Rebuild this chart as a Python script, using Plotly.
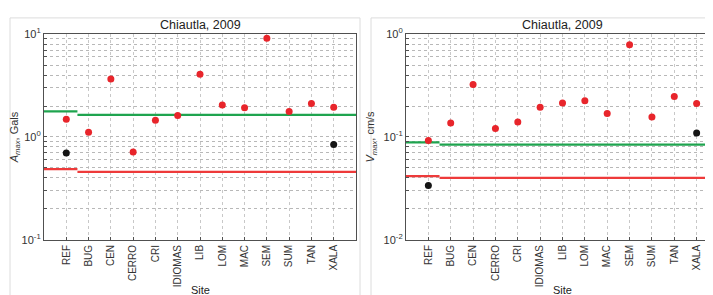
import numpy as np
import plotly.graph_objects as go

sites = ["REF", "BUG", "CEN", "CERRO", "CRI", "IDIOMAS", "LIB", "LOM", "MAC", "SEM", "SUM", "TAN", "XALA"]

# Amax (Gals)
amax_red = [1.49, 1.11, 3.67, 0.716, 1.45, 1.62, 4.06, 2.05, 1.92, 9.12, 1.77, 2.12, 1.94]
amax_black_sites = ["REF", "XALA"]
amax_black = [0.70, 0.843]
amax_green = [1.77, 1.64]   # [REF segment, other sites]
amax_redline = [0.488, 0.457]

# Vmax (cm/s)
vmax_red = [0.0924, 0.137, 0.323, 0.121, 0.140, 0.195, 0.214, 0.225, 0.169, 0.79, 0.156, 0.248, 0.212]
vmax_black_sites = ["REF", "XALA"]
vmax_black = [0.0337, 0.109]
vmax_green = [0.0887, 0.0843]
vmax_redline = [0.0417, 0.0400]

W, H = 713, 295
n = len(sites)
xpos = {s: i + 1 for i, s in enumerate(sites)}

RED = "#e8252b"
GREEN = "#1fa44f"
LRED = "#ee3a3a"
AXC = "#505050"
TXT = "#333333"
FONT = "Liberation Sans, Arial, sans-serif"

fig = go.Figure()

def add_panel(xa, ya, red, bsites, black, green, redline):
    split = 1.5
    segs = [(0, split), (split, n + 1)]
    for vals, col in ((green, GREEN), (redline, LRED)):
        for (x0, x1), v in zip(segs, vals):
            fig.add_trace(go.Scatter(x=[x0, x1], y=[v, v], mode="lines",
                                     line=dict(color=col, width=2.2),
                                     xaxis=xa, yaxis=ya, showlegend=False, hoverinfo="skip"))
    fig.add_trace(go.Scatter(x=[xpos[s] for s in sites], y=red, mode="markers",
                             marker=dict(color=RED, size=7),
                             xaxis=xa, yaxis=ya, showlegend=False))
    fig.add_trace(go.Scatter(x=[xpos[s] for s in bsites], y=black, mode="markers",
                             marker=dict(color="#151515", size=7),
                             xaxis=xa, yaxis=ya, showlegend=False))

add_panel("x", "y", amax_red, amax_black_sites, amax_black, amax_green, amax_redline)
add_panel("x2", "y2", vmax_red, vmax_black_sites, vmax_black, vmax_green, vmax_redline)

def log_ticks(lo, hi):
    vals, txt = [], []
    for d in range(lo, hi + 1):
        for m in range(1, 10):
            if d == hi and m > 1:
                break
            vals.append(m * 10.0 ** d)
            txt.append(f"10<sup>{d}</sup>" if m == 1 else "")
    return vals, txt

def xaxis_cfg(domain, anchor):
    return dict(domain=domain, anchor=anchor, range=[0, n + 1],
                tickmode="array", tickvals=list(range(1, n + 1)), ticktext=sites,
                tickangle=-90, tickfont=dict(size=10, color=TXT, family=FONT),
                showgrid=True, gridcolor="#c8c8c8", griddash="dot", gridwidth=1,
                showline=True, linecolor=AXC, linewidth=1.2, mirror=True,
                ticks="inside", ticklen=3, tickcolor=AXC, zeroline=False)

def yaxis_cfg(domain, anchor, lo, hi, title):
    tv, tt = log_ticks(lo, hi)
    return dict(domain=domain, anchor=anchor, type="log", range=[lo, hi],
                tickmode="array", tickvals=tv, ticktext=tt,
                tickfont=dict(size=11, color=TXT, family=FONT),
                showgrid=True, gridcolor="#b8b8b8", griddash="dot", gridwidth=1,
                showline=True, linecolor=AXC, linewidth=1.2, mirror=True,
                ticks="inside", ticklen=3, tickcolor=AXC, zeroline=False,
                title=dict(text=title, font=dict(size=11, color=TXT, family=FONT), standoff=6))

def ann(text, xc, yc, size):
    return dict(text=text, x=xc / W, y=1 - yc / H, xref="paper", yref="paper",
                showarrow=False, font=dict(size=size, color="#222", family=FONT),
                xanchor="center", yanchor="middle")

ydom = [(H - 235) / H, (H - 19) / H]
fig.update_layout(
    width=W, height=H, margin=dict(l=0, r=0, t=0, b=0),
    paper_bgcolor="white", plot_bgcolor="white",
    font=dict(family=FONT, color=TXT),
    xaxis=xaxis_cfg([36 / W, 348 / W], "y"),
    yaxis=yaxis_cfg(ydom, "x", -1, 1, "<i>A<sub>max</sub></i>, Gals"),
    xaxis2=xaxis_cfg([398 / W, 711 / W], "y2"),
    yaxis2=yaxis_cfg(ydom, "x2", -2, 0, "<i>V<sub>max</sub></i>, cm/s"),
    annotations=[
        ann("Chiautla, 2009", (36 + 348) / 2, 9, 12.5),
        ann("Chiautla, 2009", (398 + 711) / 2, 9, 12.5),
        ann("Site", (36 + 348) / 2, 288, 11),
        ann("Site", (398 + 711) / 2, 288, 11),
    ],
    shapes=[
        dict(type="rect", xref="paper", yref="paper", x0=2 / W, x1=352 / W, y0=1 / H, y1=1 - 2 / H,
             line=dict(color="#dcdcdc", width=1)),
        dict(type="rect", xref="paper", yref="paper", x0=363 / W, x1=1.01, y0=1 / H, y1=1 - 2 / H,
             line=dict(color="#dcdcdc", width=1)),
    ],
)

fig.write_html("out.html")
